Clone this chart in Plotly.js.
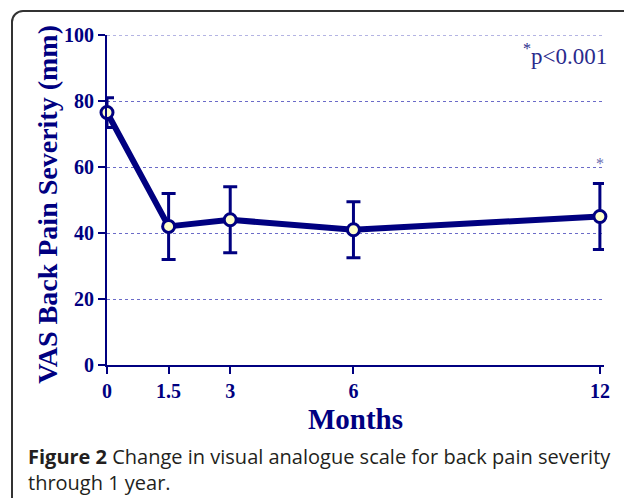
<!DOCTYPE html>
<html>
<head>
<meta charset="utf-8">
<script src="https://cdn.plot.ly/plotly-3.0.1.min.js"></script>
<style>
html,body{margin:0;padding:0;background:#fff;}
#wrap{position:relative;width:624px;height:498px;overflow:hidden;}
#frame{position:absolute;left:11px;top:10px;width:640px;height:520px;border:2px solid #333;border-radius:12px;box-sizing:border-box;pointer-events:none;}
#chart{position:absolute;left:0;top:0;width:624px;height:498px;}
</style>
</head>
<body>
<div id="wrap">
<div id="chart"></div>
<div id="frame"></div>
</div>
<script>
const months = [0, 1.5, 3, 6, 12];
const tickLabels = ['0', '1.5', '3', '6', '12'];
const vasMean = [76.5, 42, 44, 41, 45];
const vasErr = [4.5, 10, 10, 8.5, 10];
const yTicks = [0, 20, 40, 60, 80, 100];

const navy = '#000080';
const serif = '"Liberation Serif", "DejaVu Serif", serif';

const trace = {
  x: months,
  y: vasMean,
  type: 'scatter',
  mode: 'lines+markers',
  line: {color: navy, width: 6},
  marker: {size: 12, color: '#ffffcc', line: {color: navy, width: 3}},
  error_y: {type: 'data', array: vasErr, visible: true, color: navy, thickness: 3, width: 7},
  cliponaxis: false,
  hoverinfo: 'none'
};

const layout = {
  width: 624, height: 498,
  margin: {l: 107, r: 20, t: 35, b: 133},
  paper_bgcolor: '#fff', plot_bgcolor: '#fff',
  showlegend: false,
  font: {family: serif, color: navy},
  xaxis: {
    range: [0, 12.1],
    tickvals: months, ticktext: tickLabels,
    showgrid: false, zeroline: false,
    showline: true, linecolor: navy, linewidth: 2,
    ticks: 'outside', ticklen: 7, tickwidth: 2, tickcolor: navy,
    tickfont: {family: serif, size: 20, color: navy, weight: 'bold'},
    ticklabelstandoff: 0,
    title: {text: '<b>Months</b>', font: {family: serif, size: 29, color: navy}, standoff: 8}
  },
  yaxis: {
    range: [0, 100],
    tickvals: yTicks,
    showgrid: true, gridcolor: '#6b6bc8', griddash: 'dot', gridwidth: 1,
    zeroline: false,
    showline: true, linecolor: navy, linewidth: 2,
    ticks: 'outside', ticklen: 7, tickwidth: 2, tickcolor: navy,
    tickfont: {family: serif, size: 20, color: navy, weight: 'bold'}
  },
  shapes: [
    {type: 'line', xref: 'paper', yref: 'y', x0: 0, x1: 1, y0: 100, y1: 100,
     line: {color: '#6b6bc8', width: 1, dash: 'dot'}, layer: 'below'}
  ],
  annotations: [
    {xref: 'paper', yref: 'paper', x: -0.119, y: 0.488, xanchor: 'center', yanchor: 'middle',
     textangle: -90, text: '<b>VAS Back Pain Severity (mm)</b>', showarrow: false,
     font: {family: serif, size: 28, color: navy}},
    {xref: 'paper', yref: 'paper', x: 1.01, y: 0.94, xanchor: 'right', yanchor: 'middle',
     text: '<sup>*</sup>p&lt;0.001', showarrow: false,
     font: {family: serif, size: 23, color: '#2a2a8c'}},
    {xref: 'x', yref: 'y', x: 12, y: 61, xanchor: 'center', yanchor: 'middle',
     text: '*', showarrow: false, font: {family: serif, size: 16, color: '#6a6ab0'}},
    {xref: 'paper', yref: 'paper', x: -0.162, y: -0.23, xanchor: 'left', yanchor: 'top', align: 'left',
     text: '<b>Figure 2</b> Change in visual analogue scale for back pain severity<br>through 1 year.',
     showarrow: false,
     font: {family: '"Open Sans", "Noto Sans", sans-serif', size: 20, color: '#231f20'}}
  ]
};

Plotly.newPlot('chart', [trace], layout, {displayModeBar: false, staticPlot: true});
</script>
</body>
</html>
